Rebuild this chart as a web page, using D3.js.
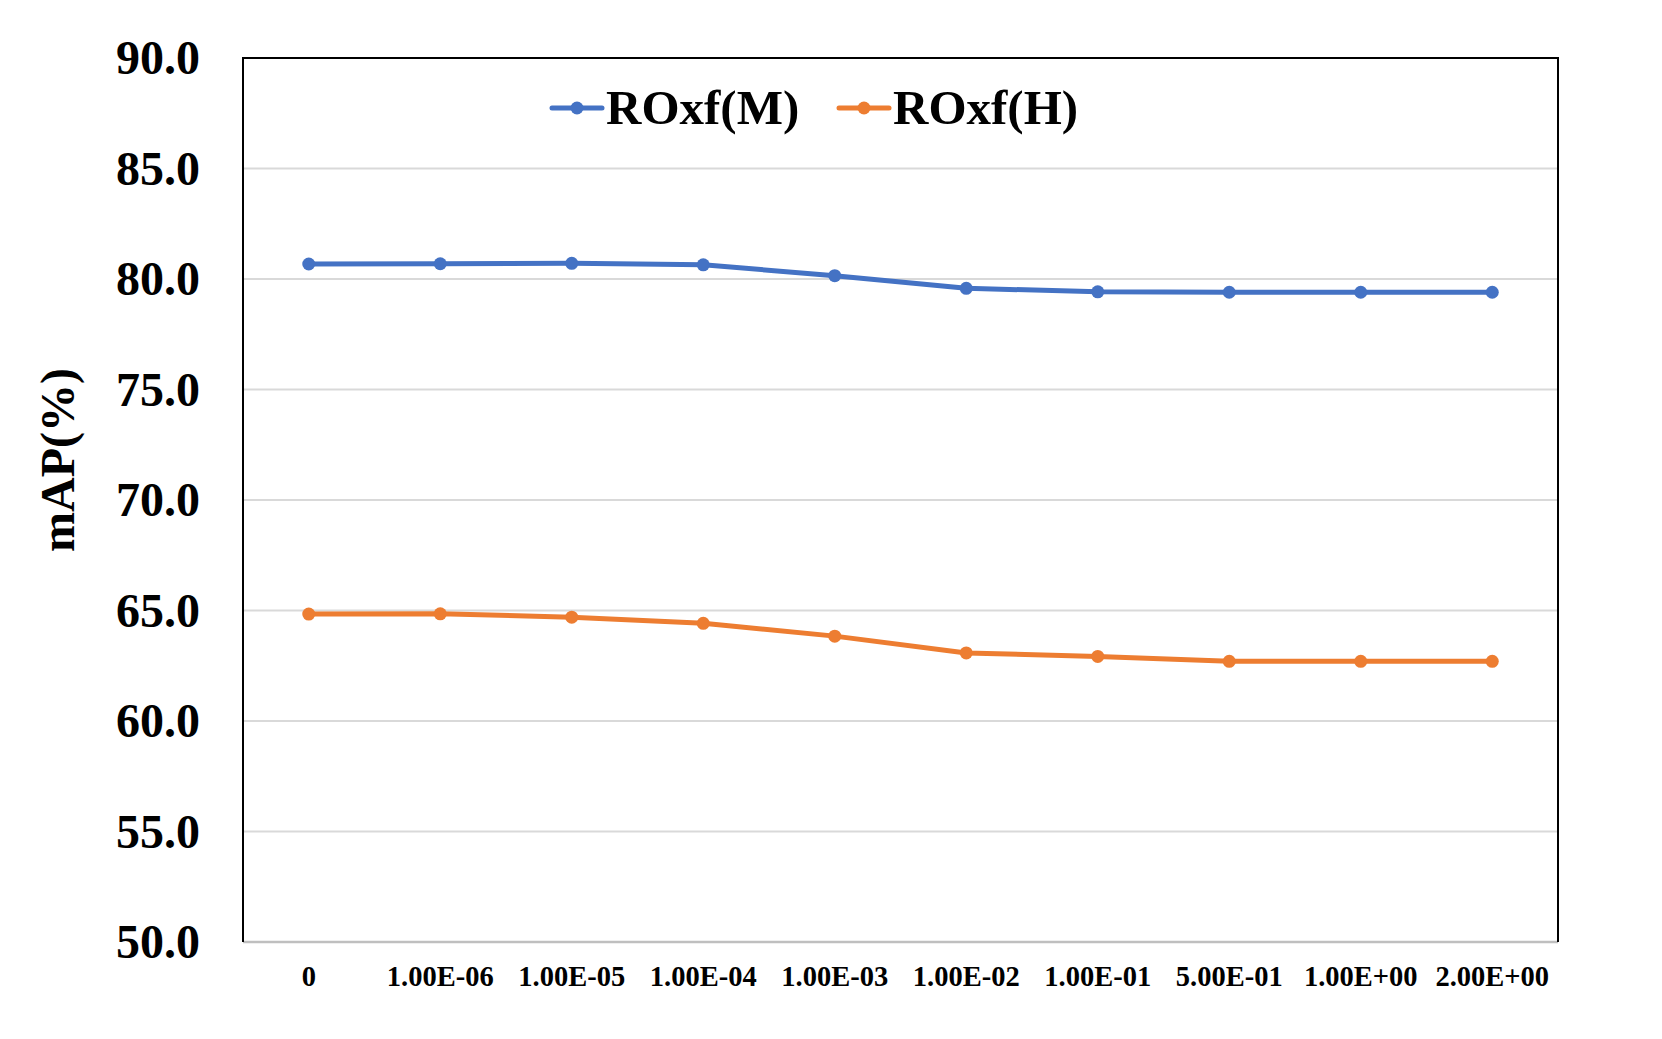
<!DOCTYPE html>
<html>
<head>
<meta charset="utf-8">
<script src="https://cdn.jsdelivr.net/npm/d3@7"></script>
<style>
  body { margin: 0; background: #fff; }
  text { font-family: "Liberation Serif", "Times New Roman", serif; font-weight: bold; }
</style>
</head>
<body>
<script>
// data
var categories = ["0", "1.00E-06", "1.00E-05", "1.00E-04", "1.00E-03", "1.00E-02", "1.00E-01", "5.00E-01", "1.00E+00", "2.00E+00"];
var medium = [80.68, 80.69, 80.71, 80.64, 80.15, 79.58, 79.42, 79.40, 79.40, 79.40];
var hard = [64.84, 64.85, 64.70, 64.42, 63.84, 63.08, 62.92, 62.70, 62.70, 62.70];
var yTicks = [50, 55, 60, 65, 70, 75, 80, 85, 90];
var seriesNames = ["ROxf(M)", "ROxf(H)"];
var colors = ["#4472C4", "#ED7D31"];

var W = 1662, H = 1039;
var plotL = 243, plotR = 1558, plotT = 58, plotB = 942;

var svg = d3.select("body").append("svg")
  .attr("width", W).attr("height", H);

var x = d3.scaleBand().domain(categories).range([plotL, plotR]);
var y = d3.scaleLinear().domain([50, 90]).range([plotB, plotT]);

// gridlines
svg.append("g").selectAll("line")
  .data(yTicks.filter(function(d){ return d > 50 && d < 90; }))
  .enter().append("line")
  .attr("x1", plotL).attr("x2", plotR)
  .attr("y1", function(d){ return y(d); })
  .attr("y2", function(d){ return y(d); })
  .attr("stroke", "#d9d9d9").attr("stroke-width", 2);

// bottom axis line (grey)
svg.append("line")
  .attr("x1", plotL).attr("x2", plotR)
  .attr("y1", plotB).attr("y2", plotB)
  .attr("stroke", "#bfbfbf").attr("stroke-width", 2.5);

// border: left, top, right
svg.append("path")
  .attr("d", "M" + plotL + "," + plotB + "V" + plotT + "H" + plotR + "V" + plotB)
  .attr("fill", "none").attr("stroke", "#000").attr("stroke-width", 2);

// y tick labels
var yAxis = d3.axisLeft(y).tickValues(yTicks).tickFormat(d3.format(".1f")).tickSize(0).tickPadding(43);
var gy = svg.append("g").attr("transform", "translate(" + plotL + ",0)").call(yAxis);
gy.select(".domain").remove();
gy.selectAll("text")
  .attr("font-size", 48).attr("fill", "#000")
  .attr("font-family", "Liberation Serif, serif").attr("font-weight", "bold")
  .attr("dy", "0.33em");

// x tick labels
var xAxis = d3.axisBottom(x).tickSize(0).tickPadding(0);
var gx = svg.append("g").attr("transform", "translate(0," + plotB + ")").call(xAxis);
gx.select(".domain").remove();
gx.selectAll("text")
  .attr("font-size", 28.5).attr("fill", "#000")
  .attr("font-family", "Liberation Serif, serif").attr("font-weight", "bold")
  .attr("y", 44).attr("dy", 0);

// y axis title
svg.append("text")
  .attr("transform", "translate(74,460) rotate(-90)")
  .attr("text-anchor", "middle")
  .attr("font-size", 48)
  .text("mAP(%)");

// lines
var line = d3.line()
  .x(function(d, i){ return x(categories[i]) + x.bandwidth() / 2; })
  .y(function(d){ return y(d); });

[medium, hard].forEach(function(vals, k){
  svg.append("path")
    .datum(vals)
    .attr("d", line)
    .attr("fill", "none")
    .attr("stroke", colors[k])
    .attr("stroke-width", 5)
    .attr("stroke-linejoin", "round");
  svg.append("g").selectAll("circle")
    .data(vals)
    .enter().append("circle")
    .attr("cx", function(d, i){ return x(categories[i]) + x.bandwidth() / 2; })
    .attr("cy", function(d){ return y(d); })
    .attr("r", 6.5)
    .attr("fill", colors[k]);
});

// legend
var legendX = [552, 839];
var legend = svg.append("g").selectAll("g")
  .data(seriesNames)
  .enter().append("g")
  .attr("transform", function(d, i){ return "translate(" + legendX[i] + ",108)"; });
legend.append("line")
  .attr("x1", 0).attr("x2", 50)
  .attr("stroke", function(d, i){ return colors[i]; })
  .attr("stroke-width", 5).attr("stroke-linecap", "round");
legend.append("circle")
  .attr("cx", 25).attr("r", 6.5)
  .attr("fill", function(d, i){ return colors[i]; });
legend.append("text")
  .attr("x", 54).attr("y", 16)
  .attr("font-size", 49)
  .text(function(d){ return d; });
</script>
</body>
</html>
